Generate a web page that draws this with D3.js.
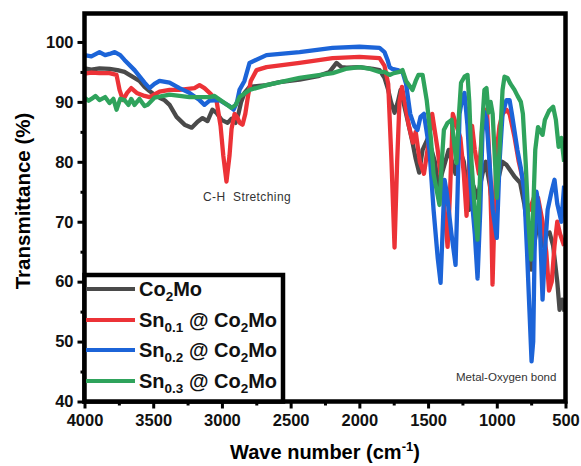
<!DOCTYPE html>
<html>
<head>
<meta charset="utf-8">
<script src="https://cdn.jsdelivr.net/npm/d3@7"></script>
<style>
  body { margin: 0; background: #fff; }
  svg text { font-family: "Liberation Sans", Arial, sans-serif; }
</style>
</head>
<body>
<svg id="chart" width="581" height="466"></svg>
<script>
// FTIR spectra, [wavenumber (cm-1), transmittance (%)]
const co2moData = [
  [4000,95.6],[3950,95.4],[3891,95.6],[3818,95.5],[3760,95.3],[3709,95],[3673,94.5],[3600,93.5],
  [3563,92.5],[3527,91.8],[3491,91.2],[3454,90.7],[3418,90.3],[3381,89.5],[3330,87.5],[3272,86.2],
  [3220,85.7],[3177,86.7],[3141,87.3],[3105,86.8],[3069,88.7],[3040,88.2],[3003,87],[2959,86.5],
  [2930,87.2],[2901,86.5],[2880,88],[2860,90],[2836,91.5],[2799,92.5],[2676,92.8],[2581,93.3],
  [2435,93.7],[2300,94.3],[2217,95],[2166,96.5],[2130,95.8],[2093,95.7],[2000,95.8],[1900,95.5],
  [1853,95.3],[1817,94],[1790,92],[1770,90],[1744,88.2],[1720,90],[1700,92],[1680,90],[1650,87],
  [1613,83.2],[1590,80.5],[1565,78.2],[1540,82],[1500,84],[1450,80],[1420,75],[1400,78],[1350,82],
  [1300,78],[1270,82],[1240,80],[1200,72],[1170,76],[1140,74],[1104,78],[1080,80],[1050,76],
  [1030,72],[1000,76],[960,80],[930,79.5],[900,78.5],[870,77.5],[830,76.5],[800,73],[770,68],
  [750,62],[730,66],[700,70],[667,66],[640,68],[616,68.2],[590,66],[560,60],[543,55.3],[525,57],[507,55]
];
const sn01Data = [
  [4000,94.7],[3950,94.9],[3891,94.8],[3818,94.8],[3767,94.5],[3745,92],[3720,90.3],[3690,91.5],
  [3660,92.3],[3620,91.5],[3563,91],[3527,90.8],[3454,91.7],[3381,92],[3309,92],[3200,92.3],
  [3163,92.8],[3127,92.3],[3080,91.3],[3040,90.3],[3010,86],[2990,81],[2967,76.7],[2945,81],
  [2930,85.5],[2908,88],[2890,87.5],[2870,86.5],[2850,86.2],[2830,88],[2810,91],[2790,93.5],
  [2748,95.3],[2676,95.8],[2435,96.5],[2195,97.3],[1999,97.5],[1853,97.3],[1817,96],[1790,93],
  [1766,80],[1744,65.7],[1725,80],[1708,90],[1690,92.5],[1670,90],[1640,86],[1610,83.2],[1590,85],
  [1560,80],[1530,78],[1504,82],[1470,88],[1430,82],[1380,72],[1358,65.8],[1340,75],[1320,88],
  [1293,86],[1265,84],[1240,78],[1220,71],[1200,80],[1180,86],[1160,82],[1130,78],[1104,86],
  [1085,88.7],[1070,88],[1053,80],[1040,70],[1031,59.5],[1016,72],[1000,82],[980,86],[958,88],
  [930,88.7],[907,88],[870,84],[840,80],[810,77],[780,73],[760,72],[730,74],[700,74],[667,70],
  [640,65],[620,58.5],[600,60],[580,66],[560,70],[540,68],[510,66]
];
const sn02Data = [
  [4000,97.8],[3950,97.6],[3891,98.3],[3850,97.8],[3818,98],[3780,98.3],[3740,97.8],[3709,97],
  [3636,95.3],[3563,93.2],[3527,92.3],[3491,93],[3454,93.5],[3381,93.2],[3309,92.3],[3236,91.5],
  [3163,90.3],[3127,89.5],[3090,90.2],[3018,90.3],[2945,89.3],[2915,88.7],[2890,90],[2872,92],
  [2836,93.5],[2799,96.5],[2676,97.8],[2435,98.3],[2195,99],[1999,99.2],[1853,99],[1817,98.3],
  [1795,97],[1780,95.8],[1760,95.5],[1722,95.3],[1686,95],[1660,93],[1630,88],[1600,86],
  [1577,85.3],[1555,87.5],[1530,88],[1490,82],[1460,72],[1430,64],[1409,59.8],[1395,68],[1380,77],
  [1365,75],[1330,68],[1300,62.8],[1285,75],[1271,88],[1250,90.8],[1235,91.5],[1213,86],[1190,76],
  [1160,68],[1140,60.5],[1120,72],[1104,85],[1089,88.3],[1075,87],[1053,80],[1030,72],[1000,67.3],
  [980,80],[958,88],[930,90.3],[907,90.3],[890,88],[870,85],[850,82],[825,79],[800,75],[780,65],
  [762,55],[747,46.7],[735,50],[725,65],[711,75],[690,72],[667,57],[650,65],[630,72],[602,75],
  [580,77],[560,73],[530,70],[510,76]
];
const sn03Data = [
  [4000,90.7],[3970,90.2],[3950,90.5],[3920,91],[3891,90.3],[3850,90.8],[3818,89.8],[3790,90.5],
  [3767,88.7],[3740,90.5],[3709,90.3],[3680,89.5],[3660,90.5],[3636,89.5],[3600,90.5],[3563,89.3],
  [3542,89.5],[3491,90.7],[3381,91.2],[3236,90.8],[3090,90.8],[3054,91],[2981,89.8],[2930,89],
  [2900,89.5],[2872,90.8],[2799,92],[2676,92.8],[2435,94],[2195,94.8],[2100,95.5],[1999,95.8],
  [1920,95.5],[1853,95],[1817,95],[1780,94.5],[1750,94.8],[1708,95],[1686,95.3],[1660,93.5],
  [1613,92],[1590,93.5],[1570,94.5],[1540,94.5],[1510,90.3],[1480,84],[1460,78],[1417,72.8],
  [1400,80],[1385,85.3],[1358,86.5],[1329,87],[1310,83],[1293,79.8],[1275,88],[1260,93.2],
  [1235,94.2],[1213,94.5],[1200,90],[1184,80],[1160,72],[1140,67],[1126,75],[1110,85],[1090,92],
  [1075,92.3],[1060,88.2],[1045,90],[1030,88],[1000,74],[980,82],[958,92],[944,94.2],[922,94],
  [900,93],[871,92],[849,91],[825,90],[810,88],[790,80],[770,70],[750,63.7],[735,72],[720,82],
  [700,85.8],[680,85],[667,84.5],[650,87],[620,88.5],[590,89.2],[570,87],[550,82.5],[530,84],[510,80]
];

const seriesNames = ["Co2Mo", "Sn0.1 @ Co2Mo", "Sn0.2 @ Co2Mo", "Sn0.3 @ Co2Mo"];
const seriesColors = ["#4a4a4a", "#ec3237", "#1c64d8", "#2fa35c"];
const seriesData = [co2moData, sn01Data, sn02Data, sn03Data];
const xTicks = [4000, 3500, 3000, 2500, 2000, 1500, 1000, 500];
const yTicks = [40, 50, 60, 70, 80, 90, 100];

const svg = d3.select("#chart");
const plotLeft = 84.5, plotRight = 565.5, plotTop = 13.5, plotBottom = 401.5;

const x = d3.scaleLinear().domain([4000, 500]).range([plotLeft, plotRight]);
const y = d3.scaleLinear().domain([40, 104.75]).range([plotBottom, plotTop]);

svg.append("clipPath").attr("id", "plotClip")
  .append("rect").attr("x", plotLeft).attr("y", plotTop)
  .attr("width", plotRight - plotLeft).attr("height", plotBottom - plotTop);

// spectra
const line = d3.line().x(d => x(d[0])).y(d => y(d[1]));
const plot = svg.append("g").attr("clip-path", "url(#plotClip)");
seriesData.forEach((data, i) => {
  plot.append("path")
    .datum(data)
    .attr("fill", "none")
    .attr("stroke", seriesColors[i])
    .attr("stroke-width", 4.3)
    .attr("stroke-linejoin", "round")
    .attr("d", line);
});

// axes
const xAxis = d3.axisBottom(x).tickValues(xTicks).tickSize(7).tickPadding(6).tickFormat(d3.format("d"));
const xMinor = d3.axisBottom(x).tickValues(d3.range(3750, 500, -500)).tickSize(4).tickFormat("");
const yAxis = d3.axisLeft(y).tickValues(yTicks).tickSize(7).tickPadding(4).tickFormat(d3.format("d"));
const yMinor = d3.axisLeft(y).tickValues(d3.range(45, 100, 10)).tickSize(4).tickFormat("");

function styleAxis(g) {
  g.select(".domain").remove();
  g.selectAll(".tick line").attr("stroke", "#000").attr("stroke-width", 3);
  g.selectAll(".tick text")
    .attr("fill", "#111")
    .style("font-size", "16.5px")
    .style("font-weight", "bold");
}

svg.append("g").attr("transform", `translate(0,${plotBottom})`).call(xAxis).call(styleAxis);
svg.append("g").attr("transform", `translate(0,${plotBottom})`).call(xMinor).call(styleAxis);
svg.append("g").attr("transform", `translate(${plotLeft},0)`).call(yAxis).call(styleAxis);
svg.append("g").attr("transform", `translate(${plotLeft},0)`).call(yMinor).call(styleAxis);

// frame
svg.append("rect")
  .attr("x", plotLeft).attr("y", plotTop)
  .attr("width", plotRight - plotLeft).attr("height", plotBottom - plotTop)
  .attr("fill", "none").attr("stroke", "#000").attr("stroke-width", 4.5);

// axis titles
const xTitle = svg.append("text")
  .attr("x", 325).attr("y", 459)
  .attr("text-anchor", "middle")
  .style("font-size", "20px").style("font-weight", "bold");
xTitle.append("tspan").text("Wave number (cm");
xTitle.append("tspan").text("-1").attr("dy", -8).style("font-size", "13px");
xTitle.append("tspan").text(")").attr("dy", 8);

svg.append("text")
  .attr("transform", "translate(30,201) rotate(-90)")
  .attr("text-anchor", "middle")
  .style("font-size", "20.5px").style("font-weight", "bold")
  .text("Transmittance (%)");

// annotations
svg.append("text")
  .attr("x", 203).attr("y", 201)
  .attr("fill", "#333")
  .style("font-size", "12px")
  .style("letter-spacing", "0.4px")
  .attr("xml:space", "preserve")
  .text("C-H  Stretching");

svg.append("text")
  .attr("x", 456).attr("y", 381)
  .attr("fill", "#333")
  .style("font-size", "11.5px")
  .text("Metal-Oxygen bond");

// legend
const legend = svg.append("g");
legend.append("rect")
  .attr("x", 84.5).attr("y", 275).attr("width", 198.5).attr("height", 126.5)
  .attr("fill", "#fff").attr("stroke", "#000").attr("stroke-width", 4.5);

const legendRows = [289, 320, 350, 381];
seriesNames.forEach((name, i) => {
  const ly = legendRows[i];
  legend.append("line")
    .attr("x1", 86).attr("x2", 135).attr("y1", ly).attr("y2", ly)
    .attr("stroke", seriesColors[i]).attr("stroke-width", 4);
  const t = legend.append("text")
    .attr("x", 139).attr("y", ly + 7)
    .style("font-size", "20px").style("font-weight", "bold").attr("fill", "#111")
    .attr("xml:space", "preserve");
  // split into normal and subscript parts
  const parts = name.match(/(Sn)(0\.\d)( @ Co)(2)(Mo)/) || name.match(/(Co)(2)(Mo)/);
  parts.slice(1).forEach((p, j) => {
    const isSub = /^(0\.\d|2)$/.test(p);
    const prevSub = j > 0 && /^(0\.\d|2)$/.test(parts[j]);
    const span = t.append("tspan").text(p);
    if (isSub) span.attr("dy", 5).style("font-size", "13.5px");
    else if (prevSub) span.attr("dy", -5);
  });
});
</script>
</body>
</html>
